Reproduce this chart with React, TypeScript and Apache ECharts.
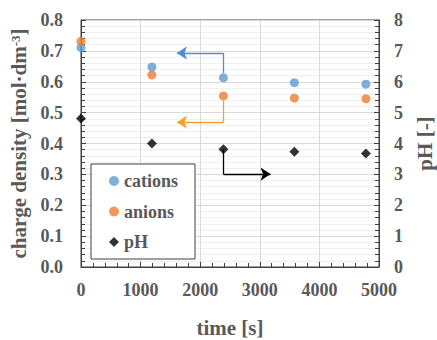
import React, { useEffect, useRef } from "react";
import * as echarts from "echarts";

const timeS = [0, 1190, 2390, 3580, 4780];
const cations = [0.711, 0.648, 0.613, 0.597, 0.592];
const anions = [0.731, 0.622, 0.554, 0.547, 0.545];
const pH = [4.81, 4.0, 3.81, 3.73, 3.68];

// annotation arrows: [x, y] corner points (start -> corner -> arrow tip)
const blueArrow = [[2390, 0.628], [2390, 0.693], [1610, 0.693]];
const orangeArrow = [[2390, 0.539], [2390, 0.469], [1610, 0.469]];
const blackArrow = [[2390, 3.81], [2390, 3.01], [3180, 3.01]];

const FONT = "Liberation Serif";
const TXT = "#595959";

function arrowLines(pts: number[][], color: string) {
  return {
    silent: true,
    animation: false,
    lineStyle: { color, width: 1.3, type: "solid" },
    label: { show: false },
    emphasis: { disabled: true },
    symbolSize: 10,
    data: [
      [
        { coord: pts[0], symbol: "none" },
        { coord: pts[1], symbol: "none" },
      ],
      [
        { coord: pts[1], symbol: "none" },
        { coord: pts[2], symbol: "arrow" },
      ],
    ],
  };
}

export default function App() {
  const ref = useRef<HTMLDivElement>(null);
  useEffect(() => {
    const chart = echarts.init(ref.current!, null, { renderer: "svg" });
    const serif = { color: TXT, fontFamily: FONT, fontWeight: "bold", fontSize: 18 };
    chart.setOption({
      animation: false,
      textStyle: { fontFamily: FONT },
      grid: {
        left: 81,
        right: 58,
        top: 20,
        bottom: 73,
        containLabel: false,
        outerBoundsMode: "none",
        show: true,
        borderColor: "#404040",
        borderWidth: 1,
        backgroundColor: "transparent",
      },
      legend: {
        orient: "vertical",
        left: 91,
        top: 164,
        padding: [8, 17, 8, 18],
        itemGap: 12.5,
        itemWidth: 10,
        itemHeight: 10,
        borderColor: "#404040",
        borderWidth: 1,
        backgroundColor: "#ffffff",
        textStyle: { ...serif },
        data: [
          { name: "cations", icon: "circle" },
          { name: "anions", icon: "circle" },
          { name: "pH", icon: "diamond" },
        ],
      },
      xAxis: {
        type: "value",
        min: 0,
        max: 5000,
        interval: 1000,
        name: "time [s]",
        nameLocation: "middle",
        nameGap: 50,
        nameTextStyle: { color: TXT, fontFamily: FONT, fontWeight: "bold", fontSize: 21 },
        axisLine: { show: true, lineStyle: { color: "#404040" } },
        axisTick: { show: true, inside: true, length: 5, lineStyle: { color: "#404040" } },
        minorTick: { show: true, splitNumber: 5, length: 4, lineStyle: { color: "#404040" } },
        splitLine: { show: true, lineStyle: { color: "#d9d9d9" } },
        axisLabel: { ...serif, margin: 14, formatter: (v: number) => String(v) },
      },
      yAxis: [
        {
          type: "value",
          min: 0,
          max: 0.8,
          interval: 0.1,
          name: "{a|charge density [mol·dm}{s|-3}{a|]}",
          nameLocation: "middle",
          nameGap: 50,
          nameRotate: 90,
          nameTextStyle: {
            color: TXT,
            fontFamily: FONT,
            fontWeight: "bold",
            fontSize: 21,
            rich: {
              a: { color: TXT, fontFamily: FONT, fontWeight: "bold", fontSize: 21 },
              s: { color: TXT, fontFamily: FONT, fontWeight: "bold", fontSize: 13, verticalAlign: "top", padding: [0, 0, 8, 0] },
            },
          },
          axisLine: { show: true, lineStyle: { color: "#404040" } },
          axisTick: { show: true, inside: true, length: 5, lineStyle: { color: "#404040" } },
          minorTick: { show: true, splitNumber: 5, length: 4, lineStyle: { color: "#404040" } },
          splitLine: { show: true, lineStyle: { color: "#d9d9d9" } },
          minorSplitLine: { show: true, lineStyle: { color: "#f0f0f0" } },
          axisLabel: { ...serif, margin: 18, formatter: (v: number) => v.toFixed(1) },
        },
        {
          type: "value",
          min: 0,
          max: 8,
          interval: 1,
          position: "right",
          name: "pH [-]",
          nameLocation: "middle",
          nameGap: 35,
          nameRotate: 90,
          nameTextStyle: { color: TXT, fontFamily: FONT, fontWeight: "bold", fontSize: 21 },
          axisLine: { show: true, lineStyle: { color: "#404040" } },
          axisTick: { show: true, inside: true, length: 5, lineStyle: { color: "#404040" } },
          minorTick: { show: true, splitNumber: 5, length: 4, lineStyle: { color: "#404040" } },
          splitLine: { show: false },
          axisLabel: { ...serif, margin: 15, formatter: (v: number) => String(v) },
        },
      ],
      series: [
        {
          name: "cations",
          type: "scatter",
          symbol: "circle",
          symbolSize: 9,
          itemStyle: { color: "#5B9BD5" },
          data: timeS.map((t, i) => [t, cations[i]]),
          markLine: arrowLines(blueArrow, "#4A8FD8"),
          z: 3,
        },
        {
          name: "anions",
          type: "scatter",
          symbol: "circle",
          symbolSize: 9,
          itemStyle: { color: "#ED7D31" },
          data: timeS.map((t, i) => [t, anions[i]]),
          markLine: arrowLines(orangeArrow, "#F7A22E"),
          z: 3,
        },
        {
          name: "pH",
          type: "scatter",
          symbol: "diamond",
          symbolSize: 10,
          yAxisIndex: 1,
          itemStyle: { color: "#000000" },
          data: timeS.map((t, i) => [t, pH[i]]),
          markLine: arrowLines(blackArrow, "#000000"),
          z: 3,
        },
      ],
    });
    return () => chart.dispose();
  }, []);
  return <div ref={ref} style={{ width: 437, height: 340, position: "absolute", left: 0, top: 0 }} />;
}
